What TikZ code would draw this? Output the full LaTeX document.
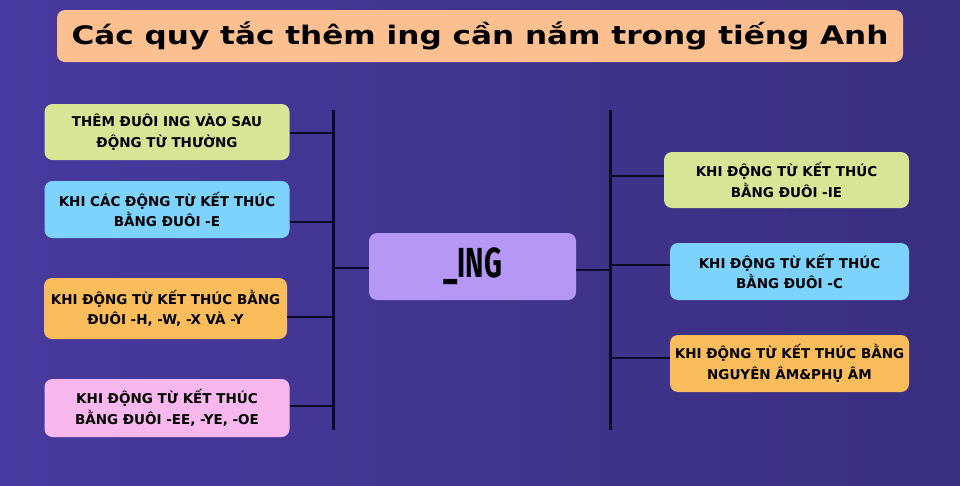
\documentclass[tikz,border=0pt]{standalone}
\usepackage{fontspec}
\setmainfont{DejaVu Sans}
\newfontfamily\ingfont{Fira Sans}
\definecolor{bgL}{RGB}{72,58,158}
\definecolor{bgR}{RGB}{58,46,128}
\definecolor{cLime}{RGB}{216,229,150}
\definecolor{cBlue}{RGB}{125,211,252}
\definecolor{cOrange}{RGB}{251,189,92}
\definecolor{cPink}{RGB}{248,184,238}
\definecolor{cCenter}{RGB}{181,151,245}
\definecolor{cTitle}{RGB}{251,191,144}
\definecolor{cLine}{RGB}{12,10,36}
\begin{document}
\begin{tikzpicture}[x=1pt,y=-1pt,
  box/.style={rounded corners=8pt, inner sep=0pt, align=center, font=\fontsize{13.5}{20.5}\selectfont\bfseries, text=black},
  conn/.style={draw=cLine, line width=2.4pt},
  spine/.style={draw=cLine, line width=3pt}]
\shade[left color=bgL, right color=bgR] (0,0) rectangle (960,485);
\useasboundingbox (0,0) rectangle (960,485);
% title
\node[box, fill=cTitle, minimum width=846pt, minimum height=52pt] (title) at (480,36)
  {\fontsize{25.5}{30}\selectfont\bfseries\scalebox{1.22}[1]{Các quy tắc thêm ing cần nắm trong tiếng Anh}};
% left boxes
\node[box, fill=cLime, minimum width=245pt, minimum height=56pt] (l1) at (167,132) {THÊM ĐUÔI ING VÀO SAU\\ ĐỘNG TỪ THƯỜNG};
\node[box, fill=cBlue, minimum width=245pt, minimum height=57pt] (l2) at (167,209.5) {KHI CÁC ĐỘNG TỪ KẾT THÚC\\ BẰNG ĐUÔI -E};
\node[box, fill=cOrange, minimum width=243pt, minimum height=61pt] (l3) at (165.5,308.5) {KHI ĐỘNG TỪ KẾT THÚC BẰNG\\ ĐUÔI -H, -W, -X VÀ -Y};
\node[box, fill=cPink, minimum width=245pt, minimum height=58pt] (l4) at (167,408) {KHI ĐỘNG TỪ KẾT THÚC\\ BẰNG ĐUÔI -EE, -YE, -OE};
% center
\node[box, fill=cCenter, minimum width=207pt, minimum height=67pt] (c) at (472.5,266.5)
  {\ingfont\fontsize{42}{44}\selectfont\bfseries\scalebox{0.66}[1]{\_ING}};
% right boxes
\node[box, fill=cLime, minimum width=245pt, minimum height=56pt] (r1) at (786.5,180) {KHI ĐỘNG TỪ KẾT THÚC\\ BẰNG ĐUÔI -IE};
\node[box, fill=cBlue, minimum width=239pt, minimum height=57pt] (r2) at (789.5,271.5) {KHI ĐỘNG TỪ KẾT THÚC\\ BẰNG ĐUÔI -C};
\node[box, fill=cOrange, minimum width=239pt, minimum height=57pt] (r3) at (789.5,363.5) {KHI ĐỘNG TỪ KẾT THÚC BẰNG\\ NGUYÊN ÂM\&PHỤ ÂM};
% spines
\coordinate (lt) at (333,110);
\coordinate (lb) at (333,430);
\coordinate (rt) at (610,110);
\coordinate (rb) at (610,430);
\draw[spine] (lt) -- (lb);
\draw[spine] (rt) -- (rb);
% left connectors
\draw[conn] (l1.east |- 0,133) -- (lt |- 0,133);
\draw[conn] (l2.east |- 0,222) -- (lt |- 0,222);
\draw[conn] (l3.east |- 0,317) -- (lt |- 0,317);
\draw[conn] (l4.east |- 0,406) -- (lt |- 0,406);
\draw[conn] (lt |- 0,268) -- (c.west |- 0,268);
% right connectors
\draw[conn] (c.east |- 0,270) -- (rt |- 0,270);
\draw[conn] (rt |- 0,176) -- (r1.west |- 0,176);
\draw[conn] (rt |- 0,265) -- (r2.west |- 0,265);
\draw[conn] (rt |- 0,358) -- (r3.west |- 0,358);
\end{tikzpicture}
\end{document}
